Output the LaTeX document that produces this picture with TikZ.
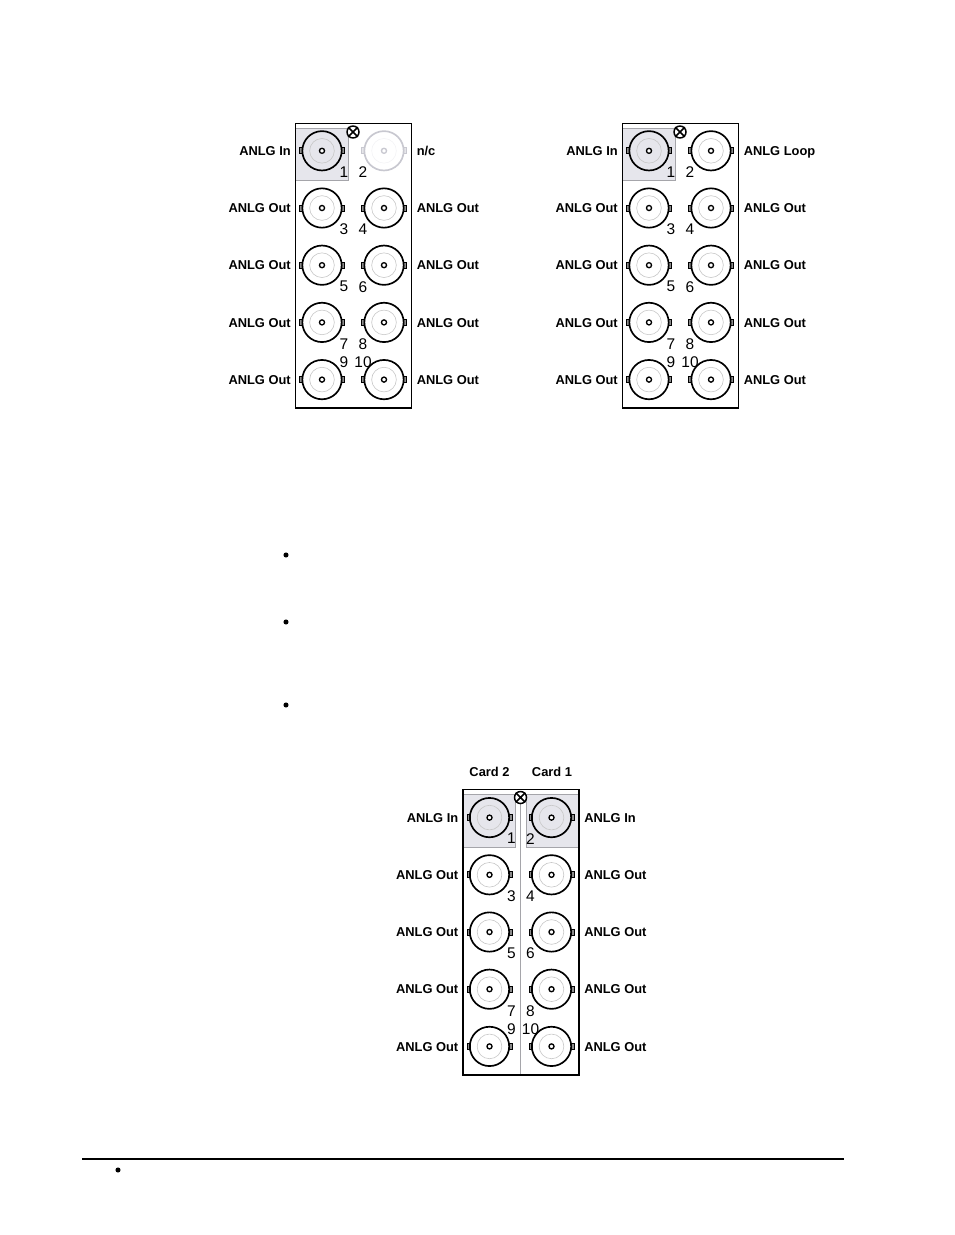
\documentclass[tikz,border=0pt]{standalone}
\usepackage{fontspec}
\setmainfont{Liberation Sans}
\tikzset{
  bncbody/.style={circle,draw=#1,line width=1.25pt,fill=none,minimum size=29.5pt,inner sep=0pt},
  bncring/.style={circle,draw=#1!22!white,line width=.45pt,minimum size=18.5pt,inner sep=0pt},
  bncpin/.style={circle,draw=#1,line width=1pt,fill=white,minimum size=3.8pt,inner sep=0pt},
  bnctab/.style={rectangle,draw=#1,line width=.55pt,fill=#1!45!white,minimum width=2.2pt,minimum height=4.5pt,inner sep=0pt},
  portlabel/.style={font=\bfseries\fontsize{9.65}{10}\selectfont,inner sep=0pt,text height=7pt,text depth=0pt},
  portnum/.style={font=\fontsize{11.6}{12}\selectfont,inner sep=0pt},
  inshade/.style={fill=shadeblue,draw=none},
  screw/.style={circle,draw=black,line width=1.1pt,fill=white,minimum size=9pt,inner sep=0pt},
  bulletdot/.style={circle,fill=black,minimum size=3.8pt,inner sep=0pt},
  panelbox/.style={draw=black,line width=1.3pt}
}
\definecolor{shadeblue}{RGB}{230,230,236}
\definecolor{edgegray}{RGB}{165,165,170}
\definecolor{faintjack}{RGB}{200,200,208}
% one jack: name, x, y, colour
\newcommand{\bncjack}[4]{
  \node[bnctab=#4] (#1l) at (#2-21,#3) {};
  \node[bnctab=#4] (#1r) at (#2+21,#3) {};
  \node[bncbody=#4] (#1) at (#2,#3) {};
  \node[bncring=#4] (#1g) at (#2,#3) {};
  \node[bncpin=#4] (#1p) at (#2,#3) {};
}
% crossed screw: name, x, y
\newcommand{\screwat}[3]{
  \node[screw] (#1) at (#2,#3) {};
  \draw[line width=1.1pt] (#1.45)--(#1.225) (#1.135)--(#1.315);
}
% rows of one panel: name, left column x, top row y
\newcommand{\panelrows}[3]{
  \foreach \row/\nl/\nr/\ya in {1/3/4/21.5,2/5/6/21.5,3/7/8/21.5,4/9/10/-17.7}{
    \pgfmathsetmacro{\yy}{#3+57.2*\row}
    \pgfmathsetmacro{\xr}{#2+62}
    \pgfmathsetmacro{\yn}{\yy+\ya}
    \bncjack{#1a\row}{#2}{\yy}{black}
    \bncjack{#1b\row}{\xr}{\yy}{black}
    \node[portlabel,anchor=east] (#1la\row) at (#2-31,\yy) {ANLG Out};
    \node[portlabel,anchor=west] (#1lb\row) at (\xr+32.5,\yy) {ANLG Out};
    \node[portnum] (#1na\row) at (#2+22,\yn) {\nl};
    \node[portnum] (#1nb\row) at (\xr-21,\yn) {\nr};
  }
}
\begin{document}
\begin{tikzpicture}[x=.75pt,y=-.75pt]
\useasboundingbox (0,0) rectangle (954,1235);

% first panel
\fill[inshade] (296,128) rectangle (348,180);
\draw[edgegray,line width=.7pt] (296,128)--(348,128)--(348,180)--(296,180);
\draw[panelbox] (295.5,123.5) rectangle (411.5,408);
\panelrows{p}{322}{150.8}
\bncjack{pin}{322}{150.8}{black}
\bncjack{pnc}{384}{150.8}{faintjack}
\node[portlabel,anchor=east] (plin) at (291,150.8) {ANLG In};
\node[portlabel,anchor=west] (plnc) at (416.5,150.8) {n/c};
\node[portnum] (pn1) at (344,172.3) {1};
\node[portnum] (pn2) at (363,172.3) {2};
\screwat{pscrew}{353}{132}

% second panel
\fill[inshade] (623,128) rectangle (675,180);
\draw[edgegray,line width=.7pt] (623,128)--(675,128)--(675,180)--(623,180);
\draw[panelbox] (622.5,123.5) rectangle (738.5,408);
\panelrows{q}{649}{150.8}
\bncjack{qin}{649}{150.8}{black}
\bncjack{qloop}{711}{150.8}{black}
\node[portlabel,anchor=east] (qlin) at (618,150.8) {ANLG In};
\node[portlabel,anchor=west] (qlloop) at (743.5,150.8) {ANLG Loop};
\node[portnum] (qn1) at (671,172.3) {1};
\node[portnum] (qn2) at (690,172.3) {2};
\screwat{qscrew}{680}{132}

% third panel, two cards
\fill[inshade] (463.5,794) rectangle (515,847);
\fill[inshade] (526,794) rectangle (579,847);
\draw[edgegray,line width=.6pt] (463.5,794)--(578.5,794);
\draw[edgegray,line width=.6pt] (463.5,847)--(515,847)--(515,794);
\draw[edgegray,line width=.6pt] (526,794)--(526,847)--(578.5,847);
\draw[edgegray,line width=.6pt] (520.6,797)--(520.6,1075);
\draw[panelbox] (463,789.5) rectangle (579,1075);
\panelrows{r}{489.5}{817.6}
\bncjack{rin}{489.5}{817.6}{black}
\bncjack{rinb}{551.5}{817.6}{black}
\node[portlabel,anchor=east] (rlin) at (458.5,817.6) {ANLG In};
\node[portlabel,anchor=west] (rlinb) at (584,817.6) {ANLG In};
\node[portnum] (rn1) at (511.5,838.6) {1};
\node[portnum] (rn2) at (530.5,838.6) {2};
\screwat{rscrew}{520.5}{797.5}
\node[portlabel] (cardb) at (489.5,772) {Card 2};
\node[portlabel] (carda) at (552,772) {Card 1};

% bullets and foot rule
\node[bulletdot] (ba) at (286,555) {};
\node[bulletdot] (bb) at (286,622) {};
\node[bulletdot] (bc) at (286,705) {};
\node[bulletdot] (bd) at (118,1170) {};
\coordinate (rulea) at (82,1159);
\coordinate (ruleb) at (844,1159);
\draw[line width=1.5pt] (rulea)--(ruleb);
\end{tikzpicture}
\end{document}
